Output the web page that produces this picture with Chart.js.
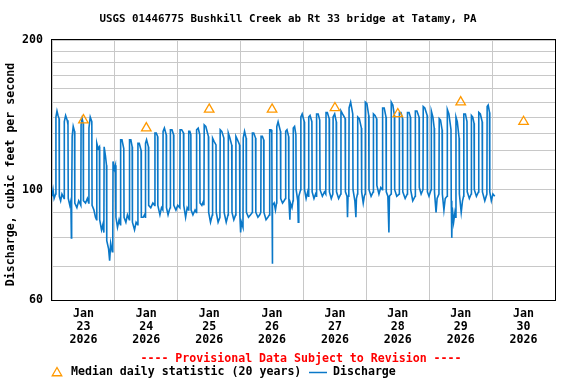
<!DOCTYPE html>
<html lang="en">

<head>
    <meta charset="UTF-8">
    <title>USGS 01446775 Bushkill Creek ab Rt 33 bridge at Tatamy, PA</title>
    <script src="https://cdn.jsdelivr.net/npm/chart.js"></script>
    <style>
        html, body { margin: 0; padding: 0; background: #fff; }
    </style>
</head>

<body>
    <canvas id="flowChart" width="576" height="384"></canvas>

    <script>
        // hours since Jan 23 2026 00:00, discharge in cfs
        const jan23 = [
            [0.0, 97], [0.4, 100], [0.8, 96], [1.4, 98],
            [1.5, 140], [1.9, 144], [2.3, 141], [2.7, 139],
            [2.8, 97], [3.3, 95], [3.8, 98], [4.6, 96],
            [4.7, 137], [5.2, 141], [5.8, 138], [6.1, 135],
            [6.2, 96], [6.8, 93], [7.2, 95], [7.4, 80], [7.5, 93],
            [7.7, 128], [8.1, 134], [8.6, 131],
            [8.7, 94], [9.5, 92], [10.2, 95], [11.0, 93],
            [11.1, 135], [11.5, 139], [11.9, 136],
            [12.0, 95], [12.8, 94], [13.5, 96], [14.0, 94],
            [14.1, 133], [14.6, 140], [15.2, 137],
            [15.3, 93], [16.0, 91], [16.6, 88], [17.0, 87],
            [17.1, 124], [17.6, 121], [18.1, 122],
            [18.2, 87], [18.9, 83], [19.4, 85], [19.8, 82],
            [19.9, 122], [20.4, 117], [20.8, 112],
            [20.9, 79], [21.6, 76], [22.0, 72], [22.4, 78], [23.0, 75], [23.2, 79],
            [23.3, 114], [23.8, 110]
        ];
        const jan24 = [
            [24.2, 112], [24.4, 88], [25.0, 84], [25.6, 87], [26.1, 85],
            [26.2, 126], [26.7, 126], [27.4, 121],
            [27.5, 88], [28.2, 86], [28.8, 89], [29.5, 87],
            [29.6, 126], [30.1, 126], [30.6, 122],
            [30.7, 86], [31.5, 83], [32.1, 86], [32.7, 85],
            [32.8, 124], [33.3, 124], [34.0, 120],
            [34.1, 88], [34.8, 88], [35.3, 89], [35.6, 88],
            [35.7, 124], [36.1, 126], [36.8, 122],
            [36.9, 93], [37.7, 92], [38.5, 94], [39.2, 93],
            [39.3, 130], [39.8, 130], [40.3, 128],
            [40.4, 93], [41.2, 89], [41.8, 92], [42.3, 91],
            [42.4, 131], [42.9, 133], [43.6, 129],
            [43.7, 92], [44.3, 89], [44.8, 91], [45.1, 92],
            [45.2, 132], [45.8, 132], [46.4, 129],
            [46.5, 93], [47.3, 91]
        ];
        const jan25 = [
            [48.0, 93], [48.8, 92],
            [48.9, 132], [49.5, 132], [50.2, 130],
            [50.3, 93], [51.0, 88], [51.6, 92], [52.1, 91],
            [52.2, 131], [52.6, 131], [53.0, 129],
            [53.1, 91], [53.8, 89], [54.6, 91], [55.1, 90],
            [55.2, 132], [55.8, 133], [56.4, 129],
            [56.5, 94], [57.2, 93], [57.9, 95], [58.0, 93],
            [58.1, 135], [58.7, 134], [59.7, 128],
            [59.8, 90], [60.5, 86], [61.2, 89],
            [61.3, 127], [61.9, 125], [62.6, 123],
            [62.7, 90], [63.4, 86], [64.1, 88],
            [64.2, 132], [64.8, 131], [65.6, 127],
            [65.7, 90], [66.5, 86], [67.2, 89],
            [67.3, 130], [67.9, 127], [68.6, 123],
            [68.7, 90], [69.4, 87], [70.1, 89],
            [70.2, 128], [70.8, 126], [71.6, 123],
            [71.7, 89]
        ];
        const jan26 = [
            [72.0, 82], [72.3, 86], [72.9, 84],
            [73.0, 127], [73.5, 131], [74.1, 127],
            [74.2, 90], [75.0, 88], [75.8, 89], [76.4, 90],
            [76.5, 130], [77.0, 130], [77.7, 127],
            [77.8, 90], [78.6, 88], [79.3, 89], [79.7, 90],
            [79.8, 128], [80.3, 128], [80.8, 126],
            [80.9, 90], [81.7, 87], [82.4, 88], [83.0, 89],
            [83.1, 132], [83.6, 132], [83.9, 130],
            [84.0, 93], [84.1, 71], [84.2, 93], [84.8, 94], [85.3, 91], [85.7, 94],
            [85.8, 134], [86.3, 137], [87.2, 131],
            [87.3, 96], [88.0, 94], [88.6, 95], [89.1, 96],
            [89.2, 131], [89.7, 132], [90.3, 128],
            [90.4, 96], [90.8, 87], [91.0, 94], [91.6, 92], [92.0, 95],
            [92.1, 133], [92.6, 134], [93.1, 129],
            [93.2, 100], [93.8, 95], [94.0, 86], [94.2, 97], [94.9, 100],
            [95.0, 140], [95.5, 142]
        ];
        const jan27 = [
            [96.3, 137], [96.4, 100], [97.0, 96], [97.6, 99], [97.9, 97],
            [98.0, 140], [98.5, 141], [99.2, 137],
            [99.3, 99], [100.0, 96], [100.6, 98], [100.9, 97],
            [101.0, 142], [101.6, 142], [102.2, 138],
            [102.3, 100], [103.2, 97], [104.0, 99], [104.5, 98],
            [104.6, 143], [105.1, 143], [105.8, 139],
            [105.9, 99], [106.6, 96], [107.2, 98],
            [107.3, 140], [107.9, 142], [108.5, 137],
            [108.6, 99], [109.4, 96], [110.2, 98],
            [110.3, 144], [110.9, 142], [111.9, 139],
            [112.0, 99], [112.6, 97], [112.8, 88], [113.0, 97], [113.3, 99],
            [113.4, 146], [114.0, 150], [114.8, 142],
            [114.9, 100], [115.6, 95], [116.0, 88], [116.2, 96], [116.6, 98],
            [116.7, 140], [117.3, 139], [118.1, 133],
            [118.2, 99], [118.8, 94], [119.2, 97], [119.5, 98],
            [119.6, 150], [120.2, 149]
        ];
        const jan28 = [
            [120.9, 141], [121.0, 100], [121.8, 97], [122.6, 99],
            [122.7, 142], [123.3, 141], [123.9, 139],
            [124.0, 102], [124.8, 98], [125.5, 101], [126.1, 100],
            [126.2, 146], [126.8, 146], [127.5, 140],
            [127.6, 99], [128.2, 97], [128.6, 82], [128.8, 97], [129.4, 98],
            [129.5, 150], [130.1, 148], [130.7, 141],
            [130.8, 100], [131.6, 97], [132.5, 98],
            [132.6, 143], [133.2, 143], [133.8, 139],
            [133.9, 99], [134.8, 96], [135.6, 98],
            [135.7, 143], [136.3, 143], [136.8, 140],
            [136.9, 100], [137.7, 95], [138.6, 97],
            [138.7, 144], [139.3, 144], [140.1, 140],
            [140.2, 101], [140.9, 98], [141.6, 100],
            [141.7, 147], [142.3, 146], [143.2, 141],
            [143.3, 99], [143.9, 97]
        ];
        const jan29 = [
            [144.7, 100],
            [144.8, 144], [145.4, 140], [145.9, 133],
            [146.0, 99], [146.6, 90], [147.0, 96], [147.7, 98],
            [147.8, 139], [148.3, 138], [148.9, 132],
            [149.0, 98], [149.6, 91], [150.1, 96], [150.8, 97],
            [150.9, 145], [151.5, 142], [152.3, 132],
            [152.4, 95], [152.6, 80], [152.8, 92], [153.3, 86], [153.8, 90], [154.1, 88],
            [154.2, 140], [154.7, 137], [155.4, 127],
            [155.5, 98], [156.2, 90], [156.7, 95], [157.1, 97],
            [157.2, 142], [157.8, 142], [158.4, 137],
            [158.5, 99], [159.3, 96], [160.0, 98],
            [160.1, 141], [160.6, 140], [161.1, 136],
            [161.2, 100], [162.0, 97], [162.8, 99],
            [162.9, 143], [163.5, 142], [164.2, 137],
            [164.3, 99], [165.2, 95], [166.0, 98],
            [166.1, 147], [166.5, 148], [167.0, 143],
            [167.1, 99], [167.7, 95], [168.3, 98], [169.0, 97]
        ];

        // median daily statistic, plotted at noon of each day
        const medianHours = [12, 36, 60, 84, 108, 132, 156, 180];
        const medianCfs = [138, 133, 145, 145, 146, 142, 150, 137];

        // axes
        const dayLabels = ['23', '24', '25', '26', '27', '28', '29', '30'];
        const monthLabel = 'Jan';
        const yearLabel = '2026';
        const yGridValues = [60, 70, 80, 90, 100, 110, 120, 130, 140, 150, 160, 170, 180, 190, 200];
        const yLabelValues = [60, 100, 200];

        const FONT = '"DejaVu Sans Mono", monospace';
        const GRID = '#c8c8c8';
        const ORANGE = '#ff9900';
        const BLUE = '#0a78c8';

        const discharge = [].concat(jan23, jan24, jan25, jan26, jan27, jan28, jan29)
            .map(p => ({ x: p[0], y: p[1] }));
        const medians = medianHours.map((h, i) => ({ x: h, y: medianCfs[i] }));

        // black frame round the plot, y-axis title, provisional note and legend
        const frameAndFooter = {
            id: 'frameAndFooter',
            afterDraw(chart) {
                const c = chart.ctx;
                const a = chart.chartArea;
                c.save();
                c.strokeStyle = '#000';
                c.lineWidth = 1;
                c.strokeRect(a.left - 0.5, a.top - 0.5, a.right - a.left + 1, a.bottom - a.top + 1);

                c.font = 'bold 11.6px ' + FONT;
                c.textBaseline = 'middle';
                c.textAlign = 'center';

                c.save();
                c.translate(11, 174.5);
                c.rotate(-Math.PI / 2);
                c.fillStyle = '#000';
                c.fillText('Discharge, cubic feet per second', 0, 0);
                c.restore();

                c.fillStyle = '#ff0000';
                c.fillText('---- Provisional Data Subject to Revision ----', 301, 359);

                c.fillStyle = 'rgba(0,0,0,0)';
                c.strokeStyle = ORANGE;
                c.lineWidth = 1.3;
                Chart.helpers.drawPoint(c, {
                    pointStyle: 'triangle', radius: 5.5, borderWidth: 1.3
                }, 57, 373);

                c.textAlign = 'left';
                c.fillStyle = '#000';
                c.fillText('Median daily statistic (20 years)', 71, 372);

                c.strokeStyle = BLUE;
                c.lineWidth = 1.5;
                c.beginPath();
                c.moveTo(309, 372.5);
                c.lineTo(327, 372.5);
                c.stroke();
                c.fillText('Discharge', 333, 372);
                c.restore();
            }
        };

        new Chart(document.getElementById('flowChart'), {
            type: 'line',
            data: {
                datasets: [{
                    label: 'Median daily statistic (20 years)',
                    data: medians,
                    showLine: false,
                    pointStyle: 'triangle',
                    pointRadius: 5.5,
                    pointBorderWidth: 1.3,
                    pointBorderColor: ORANGE,
                    pointBackgroundColor: 'rgba(0,0,0,0)',
                    order: 0
                }, {
                    label: 'Discharge',
                    data: discharge,
                    borderColor: BLUE,
                    borderWidth: 1.6,
                    pointRadius: 0,
                    tension: 0,
                    order: 1
                }]
            },
            options: {
                responsive: false,
                animation: false,
                events: [],
                layout: { padding: { left: 21, right: 21, top: 0, bottom: 39 } },
                plugins: {
                    legend: { display: false },
                    tooltip: { enabled: false },
                    title: {
                        display: true,
                        text: 'USGS 01446775 Bushkill Creek ab Rt 33 bridge at Tatamy, PA',
                        color: '#000',
                        font: { family: FONT, size: 10.8, weight: 'bold', lineHeight: '14px' },
                        padding: { top: 12, bottom: 14 }
                    }
                },
                scales: {
                    x: {
                        type: 'linear',
                        min: 0,
                        max: 192,
                        afterBuildTicks: s => {
                            s.ticks = [];
                            for (let h = 0; h <= 192; h += 12) s.ticks.push({ value: h });
                        },
                        afterFit: s => { s.height = 45; },
                        border: { display: false },
                        grid: {
                            drawTicks: false,
                            color: ctx => (ctx.tick && ctx.tick.value % 24 === 0) ? GRID : 'rgba(0,0,0,0)'
                        },
                        ticks: {
                            autoSkip: false,
                            maxRotation: 0,
                            padding: 7,
                            color: '#000',
                            font: { family: FONT, size: 11.6, weight: 'bold', lineHeight: '13px' },
                            callback: v => (v % 24 === 12) ? [monthLabel, dayLabels[(v - 12) / 24], yearLabel] : ''
                        }
                    },
                    y: {
                        type: 'logarithmic',
                        min: 60,
                        max: 200,
                        afterBuildTicks: s => { s.ticks = yGridValues.map(v => ({ value: v })); },
                        afterFit: s => { s.width = 31; },
                        border: { display: false },
                        grid: { drawTicks: false, color: GRID },
                        ticks: {
                            padding: 9,
                            color: '#000',
                            font: { family: FONT, size: 11.6, weight: 'bold' },
                            callback: v => yLabelValues.includes(v) ? String(v) : ''
                        }
                    }
                }
            },
            plugins: [frameAndFooter]
        });
    </script>
</body>

</html>
